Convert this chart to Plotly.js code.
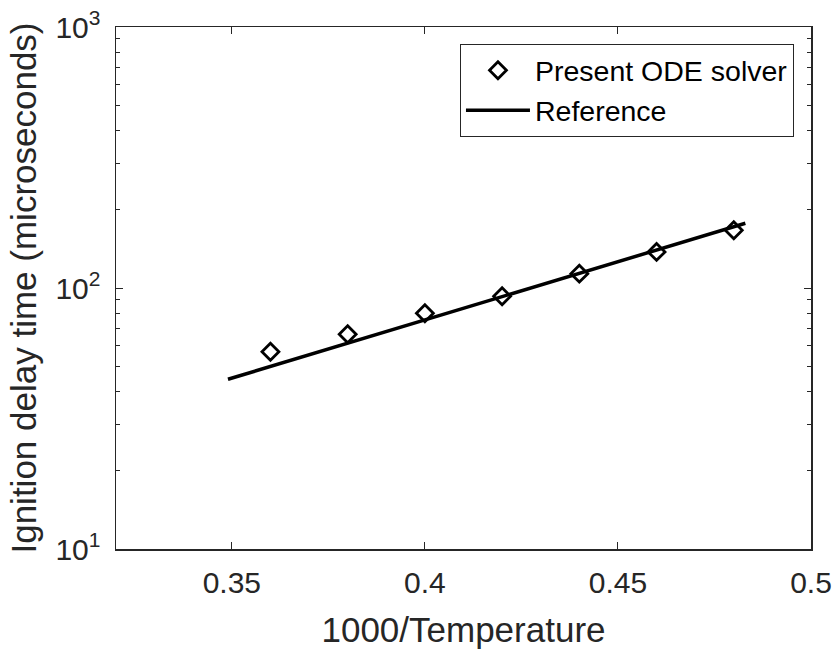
<!DOCTYPE html>
<html>
<head>
<meta charset="utf-8">
<script src="https://cdn.plot.ly/plotly-3.0.1.min.js"></script>
<style>html,body{margin:0;padding:0;background:#fff;}#chart{width:838px;height:650px;}</style>
</head>
<body>
<div id="chart"></div>
<script>
// Data
const solverX = [0.36, 0.38, 0.40, 0.42, 0.44, 0.46, 0.48];
const solverY = [57, 66.5, 80, 93, 113.5, 137.5, 166.5];
const refX = [0.349, 0.40, 0.45, 0.483];
const refY = [44.7, 75.6, 127, 177];
const xTickVals = [0.35, 0.4, 0.45, 0.5];
const xTickText = ['0.35', '0.4', '0.45', '0.5'];
const yTickVals = [10, 100, 1000];
const yTickText = ['10<sup>1</sup>', '10<sup>2</sup>', '10<sup>3</sup>'];
const yMinorVals = [20,30,40,50,60,70,80,90,200,300,400,500,600,700,800,900];

const fontFam = '"Liberation Sans", Arial, Helvetica, sans-serif';
const axisColor = '#262626';

const traces = [
  {
    x: solverX, y: solverY, type: 'scatter', mode: 'markers',
    name: 'Present ODE solver',
    marker: {symbol: 'diamond-open', size: 13, color: '#000', line: {width: 2.8, color: '#000'}}
  },
  {
    x: refX, y: refY, type: 'scatter', mode: 'lines',
    name: 'Reference',
    line: {color: '#000', width: 3.5}
  }
];

const layout = {
  width: 838, height: 650,
  margin: {l: 116, r: 27, t: 27, b: 101},
  paper_bgcolor: '#fff', plot_bgcolor: '#fff',
  font: {family: fontFam, color: axisColor},
  showlegend: true,
  legend: {
    x: 0.9755, y: 0.967, xanchor: 'right', yanchor: 'top',
    bgcolor: '#fff', bordercolor: axisColor, borderwidth: 1,
    font: {size: 28.5, color: '#000', family: fontFam},
    itemwidth: 64, tracegroupgap: 0
  },
  xaxis: {
    range: [0.32, 0.5],
    tickmode: 'array', tickvals: xTickVals, ticktext: xTickText,
    ticks: 'inside', ticklen: 7, tickwidth: 1, tickcolor: axisColor,
    showline: true, linecolor: axisColor, linewidth: 1.5, mirror: 'ticks',
    showgrid: false, zeroline: false,
    tickfont: {size: 30, color: axisColor},
    ticklabelstandoff: 6,
    title: {text: '1000/Temperature', font: {size: 35, color: axisColor}, standoff: 20}
  },
  yaxis: {
    type: 'log', range: [1, 3],
    tickmode: 'array', tickvals: yTickVals, ticktext: yTickText,
    ticks: 'inside', ticklen: 7, tickwidth: 1, tickcolor: axisColor,
    minor: {tickmode: 'array', tickvals: yMinorVals, ticks: 'inside', ticklen: 4, tickcolor: axisColor, showgrid: false},
    showline: true, linecolor: axisColor, linewidth: 1.5, mirror: 'ticks',
    showgrid: false, zeroline: false,
    tickfont: {size: 30, color: axisColor},
    ticklabelstandoff: 8,
    title: {text: 'Ignition delay time (microseconds)', font: {size: 35, color: axisColor}, standoff: 8}
  }
};

Plotly.newPlot('chart', traces, layout, {displayModeBar: false, staticPlot: true});
</script>
</body>
</html>
